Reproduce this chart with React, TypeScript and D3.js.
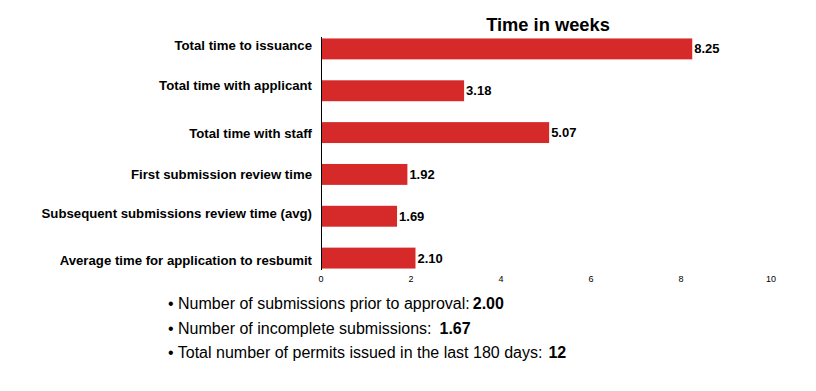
import React from "react";
import * as d3 from "d3";

const categories = [
  "Total time to issuance",
  "Total time with applicant",
  "Total time with staff",
  "First submission review time",
  "Subsequent submissions review time (avg)",
  "Average time for application to resbumit",
];
const values = [8.25, 3.18, 5.07, 1.92, 1.69, 2.1];
const xTicks = [0, 2, 4, 6, 8, 10];
const bulletLabels = [
  "Number of submissions prior to approval:",
  "Number of incomplete submissions:",
  "Total number of permits issued in the last 180 days:",
];
const bulletValues = ["2.00", "1.67", "12"];

// small vertical nudges of category labels as seen in the reference layout
const LABEL_NUDGE = [-3.5, -5.5, 0.5, -0.5, -2.5, 2];

export default function App() {
  const W = 816, H = 391;
  const x = d3.scaleLinear().domain([0, 10]).range([321, 771]);
  const y = d3.scaleBand().domain(categories).range([28, 279]).paddingInner(0.5).paddingOuter(0.25);
  const font = "'Liberation Sans', Arial, sans-serif";
  return (
    <svg width={W} height={H} style={{ position: "absolute", left: 0, top: 0 }} fontFamily={font}>
      <text x={548} y={31} textAnchor="middle" fontSize={18.3} fontWeight="bold" fill="#000">Time in weeks</text>
      {categories.map((c, i) => (
        <g key={c}>
          <rect x={x(0)} y={y(c)!} width={x(values[i]) - x(0)} height={y.bandwidth()} fill="#d62a2a" />
          <text x={x(values[i]) + 2} y={y(c)! + y.bandwidth() / 2} dy="0.35em" fontSize={13} fontWeight="bold" fill="#000">
            {values[i].toFixed(2)}
          </text>
          <text x={312} y={y(c)! + y.bandwidth() / 2 + LABEL_NUDGE[i]} dy="0.35em" textAnchor="end" fontSize={13.2} fontWeight="bold" fill="#000">
            {c}
          </text>
        </g>
      ))}
      <line x1={x(0) + 0.5} x2={x(0) + 0.5} y1={37} y2={270} stroke="#000" strokeWidth={1} />
      {xTicks.map((t) => (
        <text key={t} x={x(t)} y={282} textAnchor="middle" fontSize={9} fill="#000">{t}</text>
      ))}
      {bulletLabels.map((b, i) => (
        <text key={b} x={168} y={309 + i * 24.5} fontSize={16} fill="#000">
          {"\u2022 " + b}
          <tspan fontWeight="bold" dx={i === 0 ? 3 : i === 1 ? 8 : 6}>{bulletValues[i]}</tspan>
        </text>
      ))}
    </svg>
  );
}
